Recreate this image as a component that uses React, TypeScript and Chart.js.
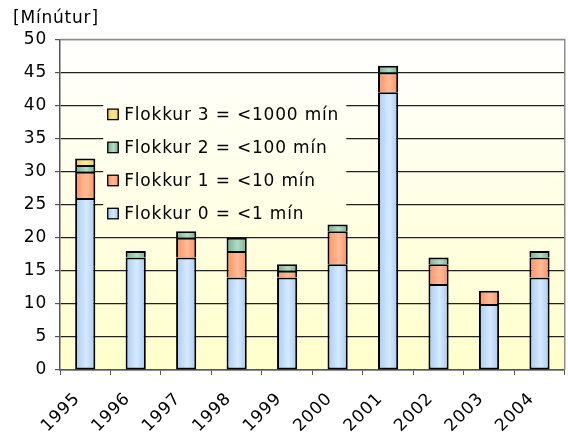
import React, { useEffect, useRef } from "react";
import { Chart, registerables } from "chart.js";

Chart.register(...registerables);

const years = ["1995", "1996", "1997", "1998", "1999", "2000", "2001", "2002", "2003", "2004"];
const flokkur0 = [26, 17, 17, 14, 14, 16, 42, 13, 10, 14];
const flokkur1 = [4, null, 3, 4, 1, 5, 3, 3, 2, 3];
const flokkur2 = [1, 1, 1, 2, 1, 1, 1, 1, null, 1];
const flokkur3 = [1, null, null, null, null, null, null, null, null, null];
const seriesLabels = [
  "Flokkur 0 = <1 mín",
  "Flokkur 1 = <10 mín",
  "Flokkur 2 = <100 mín",
  "Flokkur 3 = <1000 mín",
];
const yTitle = "[Mínútur]";

const FONT = '"DejaVu Sans"';
const FS = 17;
const LS = "0.8px";
const BAR_PCT = 0.4;

// [edge, highlight] per series
const palette: [string, string][] = [
  ["#a6cbf5", "#d6eaff"],
  ["#ff915c", "#ffbb99"],
  ["#73b08e", "#b3dcc6"],
  ["#f5cc4a", "#ffe89a"],
];

function barGradient(ctx: any, si: number) {
  const chart = ctx.chart;
  const area = chart.chartArea;
  const xs = chart.scales.x;
  if (!area || !xs || ctx.dataIndex === undefined) return palette[si][0];
  const cx = xs.getPixelForValue(ctx.dataIndex);
  const w = (area.width / years.length) * BAR_PCT;
  const g = chart.ctx.createLinearGradient(cx - w / 2, 0, cx + w / 2, 0);
  g.addColorStop(0, palette[si][0]);
  g.addColorStop(0.55, palette[si][1]);
  g.addColorStop(1, palette[si][0]);
  return g;
}

function legendSwatch(c: CanvasRenderingContext2D, x: number, y: number, s: number, si: number) {
  const g = c.createLinearGradient(x, 0, x + s, 0);
  g.addColorStop(0, palette[si][0]);
  g.addColorStop(0.55, palette[si][1]);
  g.addColorStop(1, palette[si][0]);
  c.fillStyle = g;
  c.fillRect(x, y, s, s);
  c.strokeStyle = "#000";
  c.lineWidth = 1.3;
  c.strokeRect(x, y, s, s);
}

function bgGradient(c: CanvasRenderingContext2D, area: any) {
  const g = c.createLinearGradient(0, area.top, 0, area.bottom);
  g.addColorStop(0, "#ffffff");
  g.addColorStop(1, "#ffffcc");
  return g;
}

const spacing = {
  id: "spacing",
  beforeUpdate(chart: any) {
    (chart.ctx as any).letterSpacing = LS;
  },
  beforeDraw(chart: any) {
    (chart.ctx as any).letterSpacing = LS;
  },
};

const plotBg = {
  id: "plotBg",
  beforeDraw(chart: any) {
    const { ctx, chartArea: a } = chart;
    ctx.save();
    ctx.fillStyle = bgGradient(ctx, a);
    ctx.fillRect(a.left, a.top, a.right - a.left, a.bottom - a.top);
    ctx.restore();
  },
  beforeDatasetsDraw(chart: any) {
    // legend placed inside plot area, covering the grid lines
    const { ctx, chartArea: a } = chart;
    const ys = chart.scales.y;
    const xs = chart.scales.x;
    const left = xs.getPixelForValue(0) + 18;
    const right = left + 243;
    const rowH = ys.getPixelForValue(0) - ys.getPixelForValue(5);
    const top = ys.getPixelForValue(41.2);
    const n = seriesLabels.length;
    const bottom = ys.getPixelForValue(21.5);
    ctx.save();
    ctx.fillStyle = bgGradient(ctx, a);
    ctx.fillRect(left, top, right - left, bottom - top);
    ctx.font = FS + "px " + FONT;
    ctx.textBaseline = "middle";
    for (let i = 0; i < n; i++) {
      const si = n - 1 - i;
      const cy = ys.getPixelForValue(38.7) + i * rowH;
      legendSwatch(ctx, left + 4.5, cy - 5, 10.5, si);
      ctx.fillStyle = "#000";
      ctx.fillText(seriesLabels[si], left + 21, cy + 1);
    }
    ctx.restore();
  },
  afterDraw(chart: any) {
    const { ctx, chartArea: a } = chart;
    ctx.save();
    ctx.strokeStyle = "#8c8c8c";
    ctx.lineWidth = 1.5;
    ctx.beginPath();
    ctx.moveTo(a.left, a.top);
    ctx.lineTo(a.right, a.top);
    ctx.lineTo(a.right, a.bottom);
    ctx.stroke();
    ctx.restore();
  },
};

export default function App() {
  const ref = useRef<HTMLCanvasElement>(null);
  useEffect(() => {
    document.body.style.margin = "0";
    const series = [flokkur0, flokkur1, flokkur2, flokkur3];
    const chart = new Chart(ref.current!, {
      type: "bar",
      data: {
        labels: years,
        datasets: series.map((d, si) => ({
          label: seriesLabels[si],
          data: d as any,
          backgroundColor: (ctx: any) => barGradient(ctx, si),
          borderColor: "#000",
          borderWidth: 2,
          borderSkipped: si === 0 ? false : "start",
          barPercentage: BAR_PCT,
          categoryPercentage: 1,
        })),
      },
      options: {
        animation: false,
        responsive: false,
        maintainAspectRatio: false,
        layout: { padding: { left: 13, right: 1.5, top: 0, bottom: 0 } },
        plugins: {
          legend: { display: false },
          tooltip: { enabled: false },
          title: {
            display: true,
            text: yTitle,
            align: "start",
            color: "#000",
            font: { family: FONT, size: FS, weight: "normal", lineHeight: 1.2 },
            padding: { top: 8, bottom: 11 },
          },
        },
        scales: {
          x: {
            stacked: true,
            afterFit: (s: any) => {
              s.height = 64;
            },
            grid: {
              display: true,
              offset: true,
              drawOnChartArea: false,
              drawTicks: true,
              tickLength: 5,
              color: "#555",
            },
            border: { display: true, color: "#555", width: 1.5 },
            ticks: {
              color: "#000",
              font: { family: FONT, size: FS },
              minRotation: 45,
              maxRotation: 45,
              padding: 14,
              labelOffset: -8,
            },
          },
          y: {
            stacked: true,
            min: 0,
            max: 50,
            afterFit: (s: any) => {
              s.width = 47;
            },
            ticks: {
              stepSize: 5,
              color: "#000",
              font: { family: FONT, size: FS },
              padding: 8,
            },
            grid: {
              color: (c: any) => (c.tick && c.tick.value === 50 ? "#8c8c8c" : "#222"),
              lineWidth: 1.2,
              tickLength: 5,
              tickColor: "#555",
            },
            border: { display: true, color: "#555", width: 1.5 },
          },
        },
      },
      plugins: [spacing, plotBg],
    });
    return () => chart.destroy();
  }, []);
  return (
    <div style={{ position: "absolute", left: 0, top: 0, width: 568, height: 434 }}>
      <canvas ref={ref} width={568} height={434} />
    </div>
  );
}
